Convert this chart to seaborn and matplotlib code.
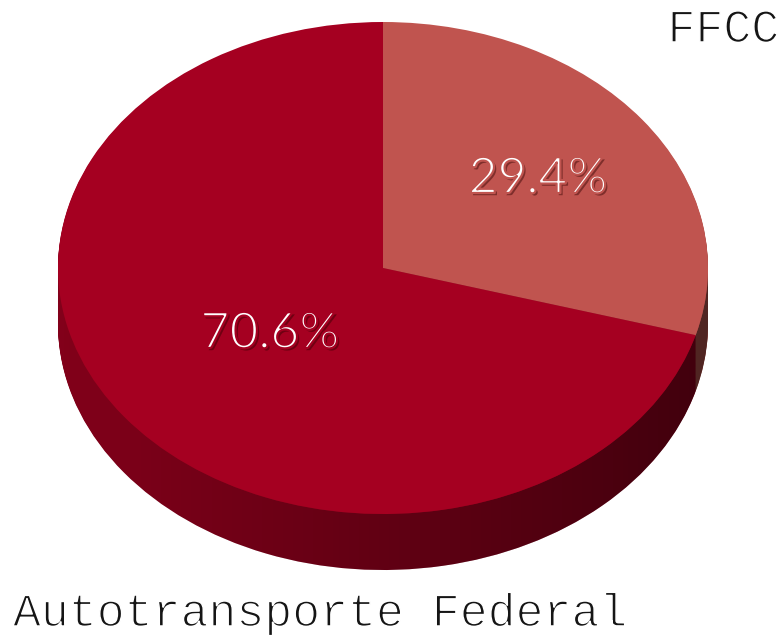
import numpy as np
import matplotlib
matplotlib.use("Agg")
import matplotlib.pyplot as plt
import matplotlib.patheffects as pe
from matplotlib.patches import Polygon
import seaborn as sns

# ---- data ----
categories = ["FFCC", "Autotransporte Federal"]
shares = [29.4, 70.6]
pct_labels = ["29.4%", "70.6%"]

top_colors = ["#C0544F", "#A50021"]
side_colors = ["#9E4A44", "#82001A"]

sns.set_theme(style="white")
plt.rcParams["font.family"] = ["Lato", "DejaVu Sans"]

W, H = 784, 639
fig = plt.figure(figsize=(W / 100, H / 100), dpi=100)
ax = fig.add_axes([0, 0, 1, 1])

a_px, b_px = 325.0, 246.0
s = b_px / a_px                      # vertical squash
cx = 383.0
cy = (H - 268.0) / s
R = a_px
depth = 56.0 / s

# side layers (stacked pies)
n = 60
for k in range(n, 0, -1):
    off = depth * k / n
    ax.pie(shares, colors=side_colors, startangle=90, counterclock=False,
           radius=R, center=(cx, cy - off), frame=True,
           wedgeprops=dict(linewidth=0, antialiased=True))

# gradient shading over the side band
t = np.linspace(np.pi, 2 * np.pi, 200)
upper = np.column_stack([cx + R * np.cos(t), cy + R * np.sin(t)])
lower = np.column_stack([cx + R * np.cos(t[::-1]), cy - depth + R * np.sin(t[::-1])])
band = Polygon(np.vstack([upper, lower]), closed=True, transform=ax.transData,
               facecolor="none", edgecolor="none")
ax.add_patch(band)
grad = np.zeros((2, 256, 4))
grad[..., 3] = np.linspace(0.0, 0.5, 256)[None, :]
im = ax.imshow(grad, extent=(cx - R, cx + R, cy - depth - R, cy), aspect="auto",
               origin="lower", zorder=2, interpolation="bilinear")
im.set_clip_path(band)

# top face
wedges, _ = ax.pie(shares, colors=top_colors, startangle=90, counterclock=False,
                   radius=R, center=(cx, cy), frame=True,
                   wedgeprops=dict(linewidth=0, antialiased=True))
for w in wedges:
    w.set_zorder(3)

# percentage labels (thin, with drop shadow)
label_pos_px = [(538, 179), (270, 334)]
for (px, py), txt, bg in zip(label_pos_px, pct_labels, top_colors):
    effects = [pe.SimplePatchShadow(offset=(1.6, -1.6), shadow_rgbFace="#300000", alpha=0.45),
               pe.Stroke(linewidth=1.6, foreground=bg)]
    ax.text(px, (H - py) / s, txt, color="white", fontsize=36, fontweight="normal",
            ha="center", va="center", zorder=5, path_effects=effects)

# category labels (thin monospaced look)
thin = [pe.Stroke(linewidth=1.1, foreground="white")]
mono = ["Liberation Mono", "DejaVu Sans Mono"]
ax.text(779, (H - 30) / s, categories[0], color="#151515", fontsize=33.5,
        family=mono, ha="right", va="center", zorder=5, path_effects=thin)
ax.text(13, (H - 614) / s, categories[1], color="#151515", fontsize=33.5,
        family=mono, ha="left", va="center", zorder=5, path_effects=thin)

ax.set_aspect("auto")
ax.set_xlim(0, W)
ax.set_ylim(0, H / s)
ax.axis("off")

fig.savefig("out.png", dpi=100, facecolor="white")
